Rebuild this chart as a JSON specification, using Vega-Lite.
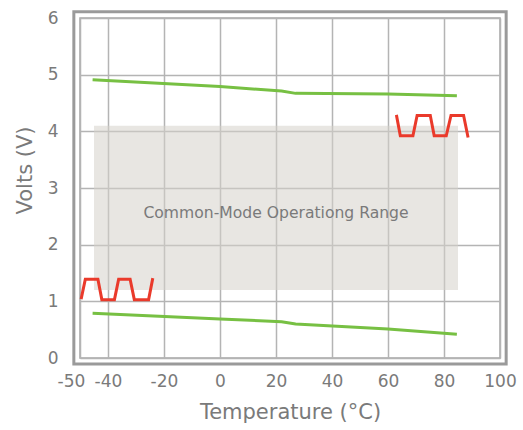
{
  "$schema": "https://vega.github.io/schema/vega-lite/v6.json",
  "width": 420,
  "height": 340,
  "autosize": "none",
  "padding": {"left": 80, "top": 18, "right": 23, "bottom": 72},
  "background": "white",
  "config": {
    "font": "DejaVu Sans",
    "view": {"stroke": "#a6a6a6", "strokeWidth": 1.5},
    "axis": {
      "labelColor": "#7a7a7a",
      "titleColor": "#7a7a7a",
      "labelFont": "DejaVu Sans",
      "titleFont": "DejaVu Sans",
      "labelFontSize": 17,
      "titleFontSize": 21,
      "titleFontWeight": "normal",
      "gridColor": "#b4b4b4",
      "gridWidth": 1.5,
      "gridOpacity": 1,
      "domain": false,
      "ticks": false
    }
  },
  "datasets": {
    "range": [{"x": -45, "x2": 85, "y": 1.2, "y2": 4.1, "label": "Common-Mode Operationg Range"}],
    "frame": [{"x": -52.2, "x2": 102.2, "y": -0.105, "y2": 6.11}],
    "green": [
      {"series": "upper", "t": -45.5, "v": 4.91},
      {"series": "upper", "t": 0, "v": 4.79},
      {"series": "upper", "t": 22, "v": 4.71},
      {"series": "upper", "t": 27, "v": 4.67},
      {"series": "upper", "t": 60, "v": 4.66},
      {"series": "upper", "t": 84.6, "v": 4.63},
      {"series": "lower", "t": -45.5, "v": 0.79},
      {"series": "lower", "t": 0, "v": 0.69},
      {"series": "lower", "t": 22, "v": 0.64},
      {"series": "lower", "t": 27, "v": 0.6},
      {"series": "lower", "t": 60, "v": 0.51},
      {"series": "lower", "t": 84.6, "v": 0.42}
    ],
    "red": [
      {"series": "left", "o": 1, "t": -49.6, "v": 1.04},
      {"series": "left", "o": 2, "t": -48.1, "v": 1.39},
      {"series": "left", "o": 3, "t": -43.6, "v": 1.39},
      {"series": "left", "o": 4, "t": -42.2, "v": 1.03},
      {"series": "left", "o": 5, "t": -37.7, "v": 1.03},
      {"series": "left", "o": 6, "t": -36.2, "v": 1.39},
      {"series": "left", "o": 7, "t": -32.1, "v": 1.39},
      {"series": "left", "o": 8, "t": -30.6, "v": 1.03},
      {"series": "left", "o": 9, "t": -25.5, "v": 1.03},
      {"series": "left", "o": 10, "t": -24.0, "v": 1.41},
      {"series": "right", "o": 1, "t": 63.0, "v": 4.29},
      {"series": "right", "o": 2, "t": 64.4, "v": 3.92},
      {"series": "right", "o": 3, "t": 68.9, "v": 3.92},
      {"series": "right", "o": 4, "t": 70.4, "v": 4.28},
      {"series": "right", "o": 5, "t": 75.1, "v": 4.28},
      {"series": "right", "o": 6, "t": 76.5, "v": 3.92},
      {"series": "right", "o": 7, "t": 80.8, "v": 3.92},
      {"series": "right", "o": 8, "t": 82.5, "v": 4.28},
      {"series": "right", "o": 9, "t": 87.0, "v": 4.28},
      {"series": "right", "o": 10, "t": 88.6, "v": 3.89}
    ]
  },
  "encoding": {
    "x": {
      "type": "quantitative",
      "scale": {"domain": [-50, 100], "nice": false, "zero": false},
      "axis": {
        "title": "Temperature (°C)",
        "values": [-50, -40, -20, 0, 20, 40, 60, 80, 100],
        "labelExpr": "'' + datum.value",
        "labelFlush": false,
        "labelOffset": {"condition": {"test": "datum.value == -50", "value": -9}, "value": 0},
        "labelPadding": 15,
        "titlePadding": 12,
        "labelOverlap": false
      }
    },
    "y": {
      "type": "quantitative",
      "scale": {"domain": [0, 6], "nice": false},
      "axis": {
        "title": "Volts (V)",
        "values": [0, 1, 2, 3, 4, 5, 6],
        "labelPadding": 22,
        "titlePadding": 12,
        "titleY": 152
      }
    }
  },
  "layer": [
    {
      "data": {"name": "range"},
      "mark": {"type": "rect", "fill": "#d6d1ca", "fillOpacity": 0.55},
      "encoding": {
        "x": {"field": "x"},
        "x2": {"field": "x2"},
        "y": {"field": "y"},
        "y2": {"field": "y2"}
      }
    },
    {
      "data": {"name": "range"},
      "mark": {"type": "text", "fontSize": 15.6, "color": "#7a7a7a", "font": "DejaVu Sans"},
      "encoding": {
        "x": {"datum": 20},
        "y": {"datum": 2.56},
        "text": {"field": "label"}
      }
    },
    {
      "data": {"name": "green"},
      "mark": {"type": "line", "color": "#77c043", "strokeWidth": 3},
      "encoding": {
        "x": {"field": "t"},
        "y": {"field": "v"},
        "detail": {"field": "series"}
      }
    },
    {
      "data": {"name": "red"},
      "mark": {"type": "line", "color": "#ea3a2b", "strokeWidth": 3},
      "encoding": {
        "x": {"field": "t"},
        "y": {"field": "v"},
        "detail": {"field": "series"},
        "order": {"field": "o"}
      }
    },
    {
      "data": {"name": "frame"},
      "mark": {"type": "rect", "fill": null, "fillOpacity": 0, "stroke": "#9a9a9a", "strokeWidth": 3, "clip": false},
      "encoding": {
        "x": {"field": "x"},
        "x2": {"field": "x2"},
        "y": {"field": "y"},
        "y2": {"field": "y2"}
      }
    }
  ]
}
